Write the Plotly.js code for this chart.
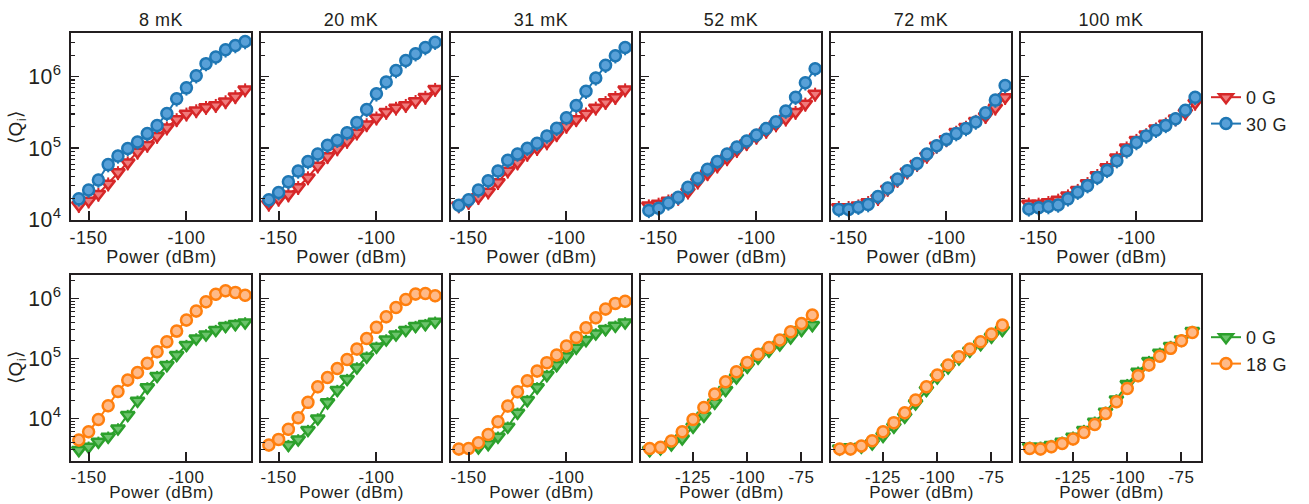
<!DOCTYPE html>
<html><head><meta charset="utf-8">
<script src="https://cdn.plot.ly/plotly-3.0.1.min.js"></script>
<style>html,body{margin:0;padding:0;background:#fff} #chart text{letter-spacing:0.5px}</style>
</head><body><div id="chart" style="width:1309px;height:504px"></div>
<script>
// ---------- data ----------
const temperatures = ['8 mK','20 mK','31 mK','52 mK','72 mK','100 mK'];
const powerFull = [-155,-150,-145,-140,-135,-130,-125,-120,-115,-110,-105,-100,-95,-90,-85,-80,-75,-70];
const powerFrom145 = [-145,-140,-135,-130,-125,-120,-115,-110,-105,-100,-95,-90,-85,-80,-75,-70];
const xTicksTop = [-150,-100];
const xTicksBottomWide = [-150,-100];
const xTicksBottomNarrow = [-125,-100,-75];

// Top row: 0 G (red) and 30 G (blue)
const top0G_8mK   = [1.6e4,1.85e4,2.3e4,3.2e4,4.6e4,6.3e4,8.9e4,1.11e5,1.48e5,1.94e5,2.53e5,3.03e5,3.37e5,3.75e5,4.0e5,4.5e5,5.3e5,6.6e5];
const top30G_8mK  = [1.96e4,2.6e4,3.6e4,5.9e4,7.8e4,9.9e4,1.22e5,1.6e5,2.08e5,3.06e5,4.9e5,6.97e5,1.03e6,1.52e6,1.88e6,2.37e6,2.72e6,3.09e6];
const top0G_20mK  = [1.67e4,1.96e4,2.25e4,2.85e4,3.9e4,5.7e4,7.7e4,9.9e4,1.26e5,1.65e5,2.15e5,2.67e5,3.2e5,3.67e5,4.0e5,4.54e5,5.2e5,6.7e5];
const top30G_20mK = [1.9e4,2.4e4,3.4e4,4.8e4,6.5e4,8.3e4,1.1e5,1.29e5,1.65e5,2.28e5,3.48e5,5.75e5,8.4e5,1.22e6,1.68e6,2.09e6,2.55e6,3.03e6];
const top0G_31mK  = [1.58e4,1.76e4,2.06e4,2.47e4,3.34e4,4.84e4,6.3e4,8.3e4,1.0e5,1.2e5,1.56e5,2.04e5,2.53e5,3.03e5,3.67e5,4.4e5,5.16e5,6.6e5];
const top30G_31mK = [1.6e4,1.9e4,2.6e4,3.5e4,4.8e4,6.8e4,8.3e4,1.0e5,1.17e5,1.48e5,1.9e5,2.67e5,3.95e5,6.25e5,9.6e5,1.44e6,1.96e6,2.55e6];
const top0G_52mK  = [1.58e4,1.67e4,1.85e4,2.02e4,2.47e4,3.4e4,4.45e4,5.7e4,7.2e4,9.4e4,1.17e5,1.44e5,1.74e5,2.15e5,2.58e5,3.2e5,4.17e5,5.75e5];
const top30G_52mK = [1.35e4,1.45e4,1.72e4,2.06e4,2.85e4,3.8e4,5.1e4,6.5e4,8.3e4,1.04e5,1.26e5,1.53e5,1.88e5,2.35e5,3.3e5,5.16e5,8.2e5,1.29e6];
const top0G_72mK  = [1.5e4,1.5e4,1.58e4,1.76e4,2.0e4,2.7e4,3.6e4,4.7e4,6.0e4,7.8e4,1.08e5,1.33e5,1.69e5,1.98e5,2.4e5,2.8e5,3.67e5,5.16e5];
const top30G_72mK = [1.39e4,1.39e4,1.5e4,1.63e4,2.11e4,2.78e4,3.7e4,4.84e4,6.1e4,8.3e4,1.08e5,1.33e5,1.6e5,1.88e5,2.32e5,3.12e5,4.7e5,7.5e5];
const top0G_100mK = [1.67e4,1.67e4,1.76e4,1.9e4,2.18e4,2.6e4,3.24e4,4.2e4,5.4e4,7.4e4,1.02e5,1.3e5,1.56e5,1.88e5,2.2e5,2.6e5,3.12e5,4.3e5];
const top30G_100mK= [1.42e4,1.47e4,1.53e4,1.61e4,1.96e4,2.43e4,3.0e4,3.9e4,4.9e4,6.7e4,9.2e4,1.2e5,1.48e5,1.78e5,2.08e5,2.58e5,3.4e5,5.16e5];

// Bottom row: 0 G (green) and 18 G (orange)
const bot0G_8mK   = [2.96e3,3.37e3,4.08e3,4.95e3,6.8e3,1.14e4,1.97e4,3.29e4,5.08e4,7.74e4,1.14e5,1.67e5,2.15e5,2.51e5,2.97e5,3.46e5,3.73e5,3.98e5];
const bot18G_8mK  = [4.35e3,6.0e3,9.6e3,1.63e4,2.8e4,4.35e4,5.8e4,8.3e4,1.29e5,1.9e5,2.85e5,4.35e5,6.15e5,8.8e5,1.17e6,1.34e6,1.26e6,1.13e6];
const bot0G_20mK  = [3.6e3,4.47e3,6.4e3,1.0e4,1.85e4,2.97e4,4.53e4,7.08e4,1.07e5,1.56e5,2.07e5,2.51e5,2.97e5,3.46e5,3.73e5,4.08e5];
const bot18G_20mK = [3.6e3,4.47e3,6.6e3,1.03e4,1.85e4,3.37e4,4.82e4,6.8e4,9.6e4,1.43e5,2.15e5,3.29e5,4.94e5,7.08e5,9.6e5,1.18e6,1.21e6,1.11e6];
const bot0G_31mK  = [3.29e3,3.73e3,4.95e3,7.26e3,1.24e4,2.02e4,3.29e4,5.27e4,7.74e4,1.09e5,1.51e5,2.02e5,2.61e5,3.08e5,3.5e5,3.98e5];
const bot18G_31mK = [3.08e3,3.16e3,3.93e3,5.4e3,8.8e3,1.61e4,2.78e4,4.24e4,6.15e4,8.5e4,1.14e5,1.61e5,2.24e5,3.25e5,4.76e5,6.64e5,8.26e5,9.0e5];
const bot0G_52mK  = [2.96e3,3.16e3,3.69e3,4.64e3,7.26e3,1.11e4,1.82e4,2.97e4,4.82e4,7.26e4,1.03e5,1.34e5,1.71e5,2.24e5,2.97e5,3.59e5];
const bot18G_52mK = [3.16e3,3.29e3,4.19e3,6.0e3,9.6e3,1.52e4,2.55e4,4.08e4,6.0e4,8.58e4,1.17e5,1.52e5,2.02e5,2.78e5,3.83e5,5.27e5];
const bot0G_72mK  = [3.16e3,3.29e3,3.37e3,3.83e3,5.08e3,7.26e3,1.07e4,1.78e4,2.97e4,4.82e4,7.08e4,1.0e5,1.34e5,1.73e5,2.3e5,2.97e5];
const bot18G_72mK = [3.08e3,3.08e3,3.46e3,4.24e3,6.0e3,8.5e3,1.24e4,2.02e4,3.37e4,5.27e4,7.74e4,1.07e5,1.43e5,1.9e5,2.55e5,3.59e5];
const bot0G_100mK = [3.37e3,3.37e3,3.6e3,4.08e3,4.95e3,6.4e3,8.8e3,1.29e4,2.07e4,3.73e4,6.0e4,9.03e4,1.24e5,1.61e5,2.07e5,2.86e5];
const bot18G_100mK= [3.16e3,3.08e3,3.37e3,3.83e3,4.53e3,5.84e3,7.94e3,1.21e4,1.9e4,3.16e4,5.14e4,7.74e4,1.09e5,1.47e5,1.97e5,2.71e5];

const topPanels = [
  {x0:powerFull, y0:top0G_8mK,   x1:powerFull, y1:top30G_8mK},
  {x0:powerFull, y0:top0G_20mK,  x1:powerFull, y1:top30G_20mK},
  {x0:powerFull, y0:top0G_31mK,  x1:powerFull, y1:top30G_31mK},
  {x0:powerFull, y0:top0G_52mK,  x1:powerFull, y1:top30G_52mK},
  {x0:powerFull, y0:top0G_72mK,  x1:powerFull, y1:top30G_72mK},
  {x0:powerFull, y0:top0G_100mK, x1:powerFull, y1:top30G_100mK}
];
const botPanels = [
  {x0:powerFull,    y0:bot0G_8mK,   x1:powerFull,    y1:bot18G_8mK},
  {x0:powerFrom145, y0:bot0G_20mK,  x1:powerFull,    y1:bot18G_20mK},
  {x0:powerFrom145, y0:bot0G_31mK,  x1:powerFull,    y1:bot18G_31mK},
  {x0:powerFrom145, y0:bot0G_52mK,  x1:powerFrom145, y1:bot18G_52mK},
  {x0:powerFrom145, y0:bot0G_72mK,  x1:powerFrom145, y1:bot18G_72mK},
  {x0:powerFrom145, y0:bot0G_100mK, x1:powerFrom145, y1:bot18G_100mK}
];

// ---------- styling ----------
const W = 1309, H = 504;
const FONT = 'Liberation Sans, Arial, Helvetica, sans-serif';
const INK = '#231f20';
const TXT = 18;
const TXT_BOTTOM = 17;
const colLeft = [71, 261, 451, 641, 831, 1021];
const panelW = 180;
const rowTop = [[33, 220], [275, 461]];
const styles = {
  red:    {edge:'#d62728', fill:'#ef7b7c', sym:'triangle-down', size:12},
  blue:   {edge:'#1f77b4', fill:'#58a0d8', sym:'circle', size:11},
  green:  {edge:'#2ca02c', fill:'#6cc46c', sym:'triangle-down', size:12},
  orange: {edge:'#ff7f0e', fill:'#ffba88', sym:'circle', size:11}
};

function trace(x, y, st, name, xa, ya, showleg, legend) {
  return {
    type:'scatter', mode:'lines+markers', x:x, y:y, name:name,
    xaxis:xa, yaxis:ya, showlegend:showleg, legend:legend,
    line:{color:st.edge, width:2},
    marker:{symbol:st.sym, size:st.size, color:st.fill, line:{color:st.edge, width:2.5}},
    error_y:{type:'percent', value:22, color:st.edge, thickness:2, width:0}
  };
}

const data = [];
const legendBase = {xanchor:'left', yanchor:'top', font:{size:TXT, family:FONT, color:INK},
                    itemwidth:30, tracegroupgap:0, bgcolor:'rgba(0,0,0,0)'};
const layout = {
  width:W, height:H, margin:{l:0,r:0,t:0,b:0},
  paper_bgcolor:'#fff', plot_bgcolor:'#fff',
  font:{family:FONT, color:INK, size:TXT},
  annotations:[],
  legend:Object.assign({x:1206/W, y:1-79/H}, legendBase),
  legend2:Object.assign({x:1206/W, y:1-319/H}, legendBase)
};

for (let r = 0; r < 2; r++) {
  for (let c = 0; c < 6; c++) {
    const i = r*6 + c;
    const id = i === 0 ? '' : String(i+1);
    const xa = 'x' + id, ya = 'y' + id;
    const narrow = (r === 1 && c >= 3);
    const xTicks = r === 0 ? xTicksTop : (narrow ? xTicksBottomNarrow : xTicksBottomWide);
    const fs = r === 0 ? TXT : TXT_BOTTOM;
    layout['xaxis'+id] = {
      domain:[colLeft[c]/W, (colLeft[c]+panelW)/W], anchor:ya,
      range: narrow ? [-149, -66] : [-159, -67],
      tickvals:xTicks, ticktext:xTicks.map(String),
      ticks:'inside', ticklen:9, tickwidth:2, tickcolor:INK,
      showline:true, linecolor:INK, linewidth:2, mirror:true,
      showgrid:false, zeroline:false,
      tickfont:{size:fs, family:FONT, color:INK}, ticklabelstandoff:0
    };
    const yr = rowTop[r];
    layout['yaxis'+id] = {
      domain:[1 - yr[1]/H, 1 - yr[0]/H], anchor:xa, type:'log',
      range: r === 0 ? [3.997, 6.61] : [3.29, 6.39],
      tickmode:'linear', tick0:0, dtick:1, exponentformat:'power', showexponent:'all',
      ticks:'inside', ticklen:8, tickwidth:1.5, tickcolor:INK,
      minor:{ticks:'inside', ticklen:4, tickwidth:1.2, tickcolor:INK, dtick:'D1', showgrid:false},
      showticklabels: c === 0,
      showline:true, linecolor:INK, linewidth:2, mirror:true,
      showgrid:false, zeroline:false,
      tickfont:{size:17, family:FONT, color:INK}, ticklabelstandoff:4
    };
    const p = r === 0 ? topPanels[c] : botPanels[c];
    const sA = r === 0 ? styles.red : styles.green;
    const sB = r === 0 ? styles.blue : styles.orange;
    const leg = r === 0 ? 'legend' : 'legend2';
    data.push(trace(p.x0, p.y0, sA, '0 G', xa, ya, c === 0, leg));
    data.push(trace(p.x1, p.y1, sB, r === 0 ? '30 G' : '18 G', xa, ya, c === 0, leg));
    const titlePos = r === 0 ? {y:1-257/H, yanchor:'middle'} : {y:0.001, yanchor:'bottom'};
    layout.annotations.push(Object.assign({text:'Power (dBm)', xref:'paper', yref:'paper',
      x:(colLeft[c]+panelW/2)/W, xanchor:'center', borderpad:0,
      showarrow:false, font:{size:fs, family:FONT, color:INK}}, titlePos));
  }
}

temperatures.forEach((t, c) => {
  layout.annotations.push({text:t, xref:'paper', yref:'paper', x:(colLeft[c]+panelW/2)/W, y:1-20/H,
    xanchor:'center', yanchor:'middle', showarrow:false, font:{size:TXT, family:FONT, color:INK}});
});
[127, 367].forEach(py => {
  layout.annotations.push({text:'⟨Q<sub>i</sub>⟩', xref:'paper', yref:'paper', x:17/W, y:1-py/H,
    xanchor:'center', yanchor:'middle', textangle:-90, showarrow:false, font:{size:19, family:FONT, color:INK}});
});

Plotly.newPlot('chart', data, layout, {displayModeBar:false, staticPlot:true});
</script>
</body></html>
